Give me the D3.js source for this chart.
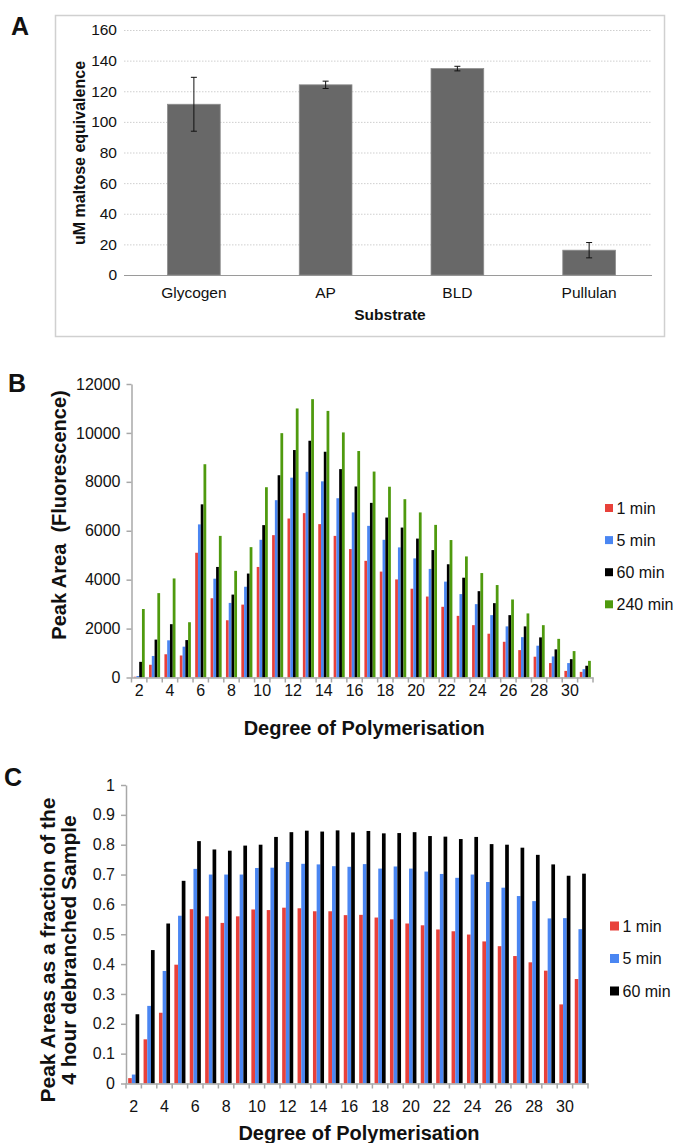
<!DOCTYPE html>
<html>
<head>
<meta charset="utf-8">
<script src="https://cdn.jsdelivr.net/npm/d3@7"></script>
<style>
  body { margin: 0; background: #fff; }
  text { font-family: "Liberation Sans", Arial, sans-serif; fill: #111; }
  .axisB path, .axisB line { stroke: #a8a8a8; stroke-width: 1.5; }
  .axisB text { font-size: 16px; fill: #111; }
</style>
</head>
<body>
<div id="fig"></div>
<script>
// ---- data ----
const substrates = ["Glycogen", "AP", "BLD", "Pullulan"];
const maltose = [111.5, 124.2, 134.8, 16.2];
const maltoseErr = [17.6, 2.4, 1.5, 5.0];
const ticksA = [0, 20, 40, 60, 80, 100, 120, 140, 160];

const dp = [2, 3, 4, 5, 6, 7, 8, 9, 10, 11, 12, 13, 14, 15, 16, 17, 18, 19, 20, 21, 22, 23, 24, 25, 26, 27, 28, 29, 30, 31];
const dpLabels = [2, 4, 6, 8, 10, 12, 14, 16, 18, 20, 22, 24, 26, 28, 30];

const seriesB = ["1 min", "5 min", "60 min", "240 min"];
const b1 = [30, 520, 950, 900, 5100, 3240, 2340, 2980, 4520, 5820, 6500, 6720, 6270, 5790, 5250, 4770, 4330, 4010, 3630, 3310, 2890, 2520, 2140, 1790, 1460, 1120, 850, 590, 270, 230];
const b5 = [60, 880, 1520, 1260, 6260, 4040, 3050, 3710, 5630, 7250, 8170, 8410, 8020, 7330, 6750, 6200, 5630, 5320, 4870, 4440, 3920, 3410, 3000, 2550, 2090, 1650, 1300, 860, 590, 340];
const b60 = [640, 1550, 2180, 1530, 7080, 4520, 3390, 4250, 6230, 8270, 9300, 9680, 9230, 8520, 7810, 7140, 6540, 6130, 5680, 5210, 4630, 4080, 3530, 3040, 2550, 2090, 1640, 1150, 750, 480];
const b240 = [2800, 3450, 4050, 2260, 8720, 5790, 4360, 5330, 7780, 9990, 11000, 11380, 10900, 10020, 9260, 8420, 7800, 7290, 6750, 6240, 5620, 4950, 4270, 3780, 3190, 2620, 2140, 1580, 1080, 680];
const ticksB = [0, 2000, 4000, 6000, 8000, 10000, 12000];

const seriesC = ["1 min", "5 min", "60 min"];
const c1 = [0.018, 0.148, 0.237, 0.398, 0.584, 0.560, 0.538, 0.560, 0.583, 0.581, 0.589, 0.587, 0.577, 0.577, 0.564, 0.565, 0.556, 0.550, 0.536, 0.530, 0.516, 0.510, 0.499, 0.476, 0.460, 0.427, 0.406, 0.378, 0.265, 0.350];
const c5 = [0.030, 0.260, 0.377, 0.562, 0.719, 0.700, 0.700, 0.700, 0.722, 0.723, 0.742, 0.736, 0.734, 0.728, 0.726, 0.735, 0.720, 0.727, 0.720, 0.710, 0.702, 0.689, 0.700, 0.675, 0.656, 0.628, 0.611, 0.553, 0.554, 0.517];
const c60 = [0.232, 0.447, 0.536, 0.679, 0.812, 0.784, 0.780, 0.797, 0.800, 0.826, 0.842, 0.847, 0.844, 0.848, 0.841, 0.846, 0.838, 0.839, 0.842, 0.829, 0.827, 0.819, 0.826, 0.802, 0.800, 0.790, 0.766, 0.734, 0.696, 0.703];
const ticksC = [0, 0.1, 0.2, 0.3, 0.4, 0.5, 0.6, 0.7, 0.8, 0.9, 1];

const colors = { "1 min": "#e8413a", "5 min": "#4a86f2", "60 min": "#000000", "240 min": "#4f9a0e" };

const svg = d3.select("#fig").append("svg")
    .attr("width", 677)
    .attr("height", 1143);

// ================= panel A =================
svg.append("text")
    .attr("x", 11).attr("y", 35)
    .style("font-size", "25px").style("font-weight", "bold")
    .text("A");

svg.append("rect")
    .attr("x", 55.5).attr("y", 15.5)
    .attr("width", 609).attr("height", 321)
    .attr("fill", "none")
    .attr("stroke", "#d0d0d0")
    .attr("stroke-width", 1.5);

const xA = d3.scaleBand().domain(substrates).range([128, 655]).paddingInner(0.6).paddingOuter(0.3);
const yA = d3.scaleLinear().domain([0, 160]).range([275, 30]);

// gridlines
svg.append("g")
  .selectAll("line")
  .data(ticksA.filter(d => d > 0))
  .join("line")
    .attr("x1", 124).attr("x2", 652)
    .attr("y1", d => yA(d) + 0.5).attr("y2", d => yA(d) + 0.5)
    .attr("stroke", "#cfcfcf")
    .attr("stroke-dasharray", "1.5,1.5");

svg.append("g")
  .selectAll("text")
  .data(ticksA)
  .join("text")
    .attr("x", 117)
    .attr("y", d => yA(d))
    .attr("dy", "0.35em")
    .attr("text-anchor", "end")
    .style("font-size", "15.5px")
    .text(d => d);

svg.append("line")
    .attr("x1", 124).attr("x2", 652)
    .attr("y1", yA(0) + 0.5).attr("y2", yA(0) + 0.5)
    .attr("stroke", "#9a9a9a").attr("stroke-width", 1.2);

svg.append("g")
  .selectAll("rect")
  .data(substrates)
  .join("rect")
    .attr("x", d => xA(d))
    .attr("width", xA.bandwidth())
    .attr("y", (d, i) => yA(maltose[i]))
    .attr("height", (d, i) => yA(0) - yA(maltose[i]))
    .attr("fill", "#686868")
    .attr("stroke", "#8c8c8c")
    .attr("stroke-width", 0.8);

// error bars
const err = svg.append("g").attr("stroke", "#111").attr("stroke-width", 1);
substrates.forEach((d, i) => {
  const cx = xA(d) + xA.bandwidth() / 2;
  const lo = yA(maltose[i] - maltoseErr[i]), hi = yA(maltose[i] + maltoseErr[i]);
  err.append("line").attr("x1", cx).attr("x2", cx).attr("y1", lo).attr("y2", hi);
  err.append("line").attr("x1", cx - 3).attr("x2", cx + 3).attr("y1", lo).attr("y2", lo);
  err.append("line").attr("x1", cx - 3).attr("x2", cx + 3).attr("y1", hi).attr("y2", hi);
});

svg.append("g")
  .selectAll("text")
  .data(substrates)
  .join("text")
    .attr("x", d => xA(d) + xA.bandwidth() / 2)
    .attr("y", 293)
    .attr("dy", "0.35em")
    .attr("text-anchor", "middle")
    .style("font-size", "15.5px")
    .text(d => d);

svg.append("text")
    .attr("x", 390).attr("y", 315).attr("dy", "0.35em")
    .attr("text-anchor", "middle")
    .style("font-size", "15.5px").style("font-weight", "bold")
    .text("Substrate");

svg.append("text")
    .attr("transform", "translate(79,153) rotate(-90)")
    .attr("dy", "0.35em")
    .attr("text-anchor", "middle")
    .style("font-size", "16px").style("font-weight", "bold")
    .text("uM maltose equivalence");

// ================= grouped bar panels =================
function groupedPanel(o) {
  const g = svg.append("g");
  const x = d3.scaleBand().domain(dp).range([o.x0, o.x1]).paddingInner(0.28).paddingOuter(0.14);
  const xs = d3.scaleBand().domain(o.series).range([0, x.bandwidth()]);
  const y = d3.scaleLinear().domain(o.domain).range([o.y0, o.y1]);

  g.append("text")
      .attr("x", o.letterX).attr("y", o.letterY)
      .style("font-size", "25px").style("font-weight", "bold")
      .text(o.letter);

  // y axis
  g.append("g")
      .attr("class", "axisB")
      .attr("transform", `translate(${o.x0},0)`)
      .call(d3.axisLeft(y).tickValues(o.ticks).tickSize(5).tickSizeOuter(0).tickPadding(6).tickFormat(d3.format("")));

  // bars
  o.series.forEach((s, k) => {
    g.append("g")
      .selectAll("rect")
      .data(dp)
      .join("rect")
        .attr("x", d => x(d) + xs(s))
        .attr("width", xs.bandwidth())
        .attr("y", (d, i) => y(o.values[k][i]))
        .attr("height", (d, i) => y(0) - y(o.values[k][i]))
        .attr("fill", colors[s]);
  });

  // x axis with ticks at category boundaries
  const xa = g.append("g")
      .attr("class", "axisB")
      .attr("transform", `translate(0,${o.y0})`)
      .call(d3.axisBottom(x).tickValues(dpLabels).tickSize(0).tickPadding(o.labelPad));
  const edges = dp.map(d => x(d) - x.step() * 0.14).concat([o.x1]);
  xa.selectAll(".edge")
    .data(edges)
    .join("line")
      .attr("class", "edge")
      .attr("x1", d => d).attr("x2", d => d)
      .attr("y1", 0).attr("y2", 5);

  g.append("text")
      .attr("x", (o.x0 + o.x1) / 2 + 2).attr("y", o.titleY).attr("dy", "0.35em")
      .attr("text-anchor", "middle")
      .style("font-size", "20px").style("font-weight", "bold")
      .text("Degree of Polymerisation");

  o.ytitle.forEach((t, i) => {
    g.append("text")
        .attr("transform", `translate(${o.ytitleX[i]},${o.ytitleY}) rotate(-90)`)
        .attr("dy", "0.35em")
        .attr("text-anchor", "middle")
        .style("font-size", o.ytitleSize).style("font-weight", "bold")
        .text(t);
  });

  // legend
  const lg = g.append("g");
  o.series.forEach((s, i) => {
    const cy = o.legY + i * o.legStep;
    lg.append("rect")
        .attr("x", o.legX).attr("y", cy - o.sq / 2)
        .attr("width", o.sq).attr("height", o.sq)
        .attr("fill", colors[s]);
    lg.append("text")
        .attr("x", o.legX + o.sq + 3.5).attr("y", cy).attr("dy", "0.35em")
        .style("font-size", "16px")
        .text(s);
  });
}

// ================= panel B =================
groupedPanel({
  letter: "B", letterX: 8, letterY: 392,
  x0: 131.5, x1: 593, y0: 677.5, y1: 384,
  domain: [0, 12000], ticks: ticksB,
  series: seriesB, values: [b1, b5, b60, b240],
  labelPad: 7, titleY: 728,
  ytitle: ["Peak Area\u00a0\u00a0(Fluorescence)"], ytitleX: [59], ytitleY: 515, ytitleSize: "20px",
  legX: 605, legY: 508, legStep: 32.1, sq: 8
});

// ================= panel C =================
groupedPanel({
  letter: "C", letterX: 4, letterY: 786,
  x0: 126, x1: 588, y0: 1083.5, y1: 785,
  domain: [0, 1], ticks: ticksC,
  series: seriesC, values: [c1, c5, c60],
  labelPad: 17, titleY: 1133,
  ytitle: ["Peak Areas as a fraction of the", "4 hour debranched Sample"], ytitleX: [48, 69], ytitleY: 950, ytitleSize: "21px",
  legX: 610, legY: 926, legStep: 32.5, sq: 9
});
</script>
</body>
</html>
